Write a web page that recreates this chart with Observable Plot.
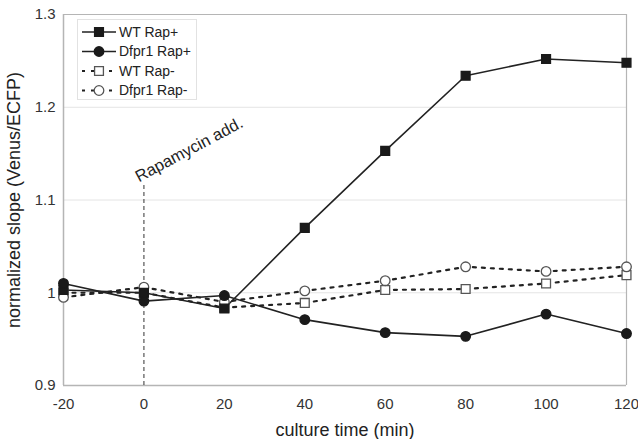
<!DOCTYPE html>
<html>
<head>
<meta charset="utf-8">
<script src="https://cdn.jsdelivr.net/npm/d3@7"></script>
<script src="https://cdn.jsdelivr.net/npm/@observablehq/plot@0.6"></script>
<style>
  html, body { margin: 0; padding: 0; background: #fff; }
  #wrap { position: relative; width: 638px; height: 439px; }
  #legend { position: absolute; left: 0; top: 0; }
</style>
</head>
<body>
<div id="wrap"></div>
<script>
const times = [-20, 0, 20, 40, 60, 80, 100, 120];
const wtRapPlus   = [1.003, 1.000, 0.983, 1.070, 1.153, 1.234, 1.252, 1.248];
const dfRapPlus   = [1.010, 0.991, 0.997, 0.971, 0.957, 0.953, 0.977, 0.956];
const wtRapMinus  = [1.000, 1.000, 0.984, 0.989, 1.003, 1.004, 1.010, 1.019];
const dfRapMinus  = [0.995, 1.006, 0.990, 1.002, 1.013, 1.028, 1.023, 1.028];
const seriesNames = ["WT Rap+", "Dfpr1 Rap+", "WT Rap-", "Dfpr1 Rap-"];
const yTicks = [0.9, 1, 1.1, 1.2, 1.3];
const xTicks = [-20, 0, 20, 40, 60, 80, 100, 120];
const rapTime = 0;
const rapLabel = "Rapamycin add.";

const styles = {
  "WT Rap+":   {symbol: "square", fill: "#1a1a1a", stroke: "#1a1a1a", dash: null},
  "Dfpr1 Rap+":{symbol: "circle", fill: "#1a1a1a", stroke: "#1a1a1a", dash: null},
  "WT Rap-":   {symbol: "square", fill: "white", stroke: "#555", dash: "3,6"},
  "Dfpr1 Rap-":{symbol: "circle", fill: "white", stroke: "#555", dash: "3,6"}
};
const values = [wtRapPlus, dfRapPlus, wtRapMinus, dfRapMinus];
const data = seriesNames.map((name, i) => times.map((t, j) => ({series: name, t, v: values[i][j]})));

const font = "'Liberation Sans', Arial, sans-serif";

const marks = [
  Plot.ruleY([1, 1.1, 1.2], {stroke: "#e4e4e4", strokeWidth: 1}),
  Plot.ruleY([1.3], {stroke: "#b5b5b5", strokeWidth: 1.2}),
  Plot.ruleX([120], {stroke: "#b5b5b5", strokeWidth: 1.2}),
  Plot.ruleX([-20], {stroke: "#b5b5b5", strokeWidth: 1.5}),
  Plot.ruleY([0.9], {stroke: "#b5b5b5", strokeWidth: 1.5}),
  Plot.ruleX([rapTime], {y1: 0.9, y2: 1.118, stroke: "#333", strokeWidth: 1, strokeDasharray: "4,3"}),
  Plot.text([rapLabel], {x: rapTime, y: 1.119, text: d => d, rotate: -28, textAnchor: "start", lineAnchor: "bottom", dx: -5, fontSize: 16.5, fill: "#222", fontFamily: font})
];
// draw dashed series first, then solid
[2, 3, 0, 1].forEach(i => {
  const s = styles[seriesNames[i]];
  marks.push(Plot.line(data[i], {x: "t", y: "v", stroke: "#222", strokeWidth: s.dash ? 2.2 : 1.6, strokeDasharray: s.dash}));
});
[2, 3, 0, 1].forEach(i => {
  const s = styles[seriesNames[i]];
  marks.push(Plot.dot(data[i], {x: "t", y: "v", symbol: () => s.symbol, r: s.symbol === "square" ? 5 : 4.8, fill: s.fill, stroke: s.stroke, strokeWidth: 1.3}));
});

const chart = Plot.plot({
  width: 638,
  height: 439,
  marginLeft: 63,
  marginRight: 12,
  marginTop: 14,
  marginBottom: 54,
  style: {fontFamily: font, fontSize: "15px", color: "#333", background: "white"},
  x: {domain: [-20, 120], ticks: xTicks, tickSize: 0, tickPadding: 13, label: "culture time (min)", labelArrow: "none", labelAnchor: "center", labelOffset: 50, tickFormat: d => String(d)},
  y: {domain: [0.9, 1.3], ticks: yTicks, tickSize: 0, tickPadding: 8, label: "normalized slope (Venus/ECFP)", labelArrow: "none", labelAnchor: "center", labelOffset: 56, tickFormat: d => String(d)},
  marks
});
chart.querySelectorAll("g[aria-label='x-axis label'] text, g[aria-label='y-axis label'] text").forEach(t => { t.style.fontSize = "18px"; t.style.fill = "#222"; });
chart.querySelectorAll("g[aria-label='x-axis tick label'] text, g[aria-label='y-axis tick label'] text").forEach(t => { t.style.fill = "#333"; });
document.getElementById("wrap").appendChild(chart);

// legend overlay
const lg = d3.select("#wrap").append("svg").attr("id", "legend").attr("width", 638).attr("height", 439);
lg.append("rect").attr("x", 77.5).attr("y", 19.5).attr("width", 119).attr("height", 80).attr("fill", "white").attr("stroke", "#e2e2e2");
seriesNames.forEach((name, i) => {
  const s = styles[name];
  const yy = 32 + i * 19.5;
  lg.append("line").attr("x1", 82).attr("x2", 116).attr("y1", yy).attr("y2", yy)
    .attr("stroke", "#222").attr("stroke-width", s.dash ? 2.2 : 1.6).attr("stroke-dasharray", s.dash ? "3,6" : null);
  const sym = d3.symbol().type(s.symbol === "square" ? d3.symbolSquare : d3.symbolCircle).size(s.symbol === "square" ? 78 : 72);
  lg.append("path").attr("d", sym()).attr("transform", `translate(99,${yy})`).attr("fill", s.fill).attr("stroke", s.stroke).attr("stroke-width", 1.3);
  lg.append("text").attr("x", 119).attr("y", yy).attr("dy", "0.35em").attr("font-family", font).attr("font-size", 14).attr("fill", "#222").text(name);
});
</script>
</body>
</html>
